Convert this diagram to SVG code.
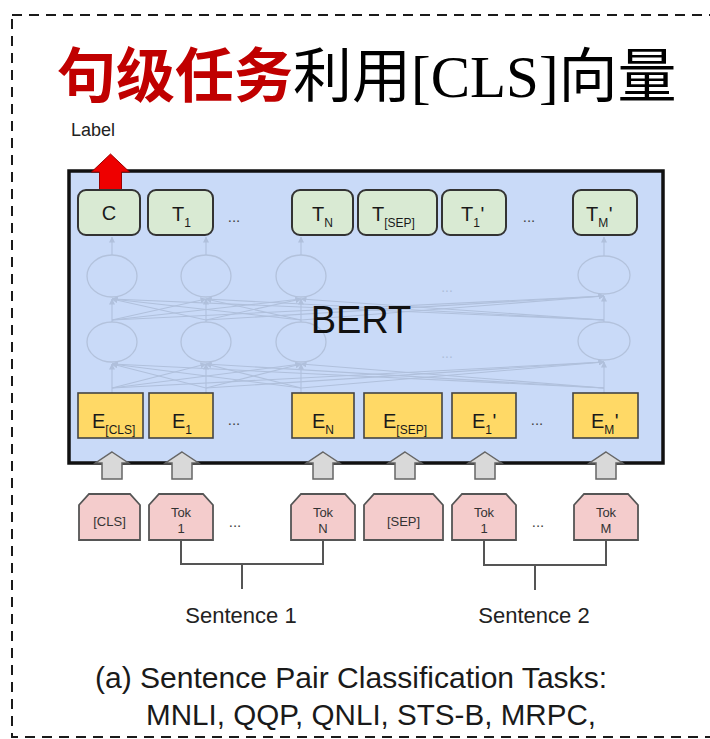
<svg xmlns="http://www.w3.org/2000/svg" width="710" height="739" viewBox="0 0 710 739">
<defs>
<style>
.sans{font-family:"Liberation Sans",Arial,sans-serif}
.tbox{fill:#d9ead3;stroke:#333;stroke-width:2}
.ebox{fill:#ffd966;stroke:#444;stroke-width:1.6}
.tok{fill:#f4cccc;stroke:#555;stroke-width:1.8}
.lbl{font-family:"Liberation Sans",Arial,sans-serif;font-size:20px;fill:#1a1a1a}
.sub{font-size:12px}
.toktxt{font-family:"Liberation Sans",Arial,sans-serif;font-size:13px;fill:#333;text-anchor:middle}
.dots{font-family:"Liberation Sans",Arial,sans-serif;font-size:15px;fill:#444;text-anchor:middle}
.fdots{font-family:"Liberation Sans",Arial,sans-serif;font-size:14px;fill:#afbed8;text-anchor:middle}
.net{stroke:#b0c0dc;stroke-width:1.1;fill:none}
.cir{stroke:#b3c2dc;stroke-width:1.3;fill:none}
.garrow{fill:#d9d9d9;stroke:#666;stroke-width:1.5}
.brk{stroke:#555;stroke-width:2;fill:none}
</style>
<marker id="ta" markerWidth="6" markerHeight="6" refX="5.5" refY="3" orient="auto" markerUnits="userSpaceOnUse">
<path d="M0,0 L6,3 L0,6 z" fill="#b0c0dc"/>
</marker>
</defs>

<rect x="12" y="15" width="730" height="722" fill="none" stroke="#1a1a1a" stroke-width="2" stroke-dasharray="10 7"/>

<g id="title">
<text x="57" y="97" font-size="59" font-family="'Noto Sans CJK SC','Noto Sans CJK TC',sans-serif"><tspan fill="#c00000" font-weight="bold">句级任务</tspan><tspan fill="#000">利用</tspan><tspan fill="#000" font-family="'Liberation Serif','Times New Roman',serif">[CLS]</tspan><tspan fill="#000">向量</tspan></text>
</g>

<g id="label">
<text class="sans" x="71" y="136" font-size="18" fill="#222">Label</text>
</g>

<g id="bert">
<rect x="69" y="171" width="594" height="292" fill="#c9daf8" stroke="#111" stroke-width="3.5"/>
<g id="hidden-layers">
<ellipse class="cir" cx="112" cy="276" rx="25" ry="21"/>
<ellipse class="cir" cx="206" cy="276" rx="25" ry="21"/>
<ellipse class="cir" cx="301" cy="276" rx="25" ry="21"/>
<ellipse class="cir" cx="604" cy="275" rx="26" ry="19"/>
<ellipse class="cir" cx="112" cy="342" rx="25" ry="20"/>
<ellipse class="cir" cx="206" cy="342" rx="25" ry="20"/>
<ellipse class="cir" cx="301" cy="342" rx="25" ry="20"/>
<ellipse class="cir" cx="604" cy="341" rx="26" ry="19"/>
<text class="fdots" x="447" y="292">...</text>
<text class="fdots" x="447" y="358">...</text>
</g>
</g>

<g id="connectors">
<g id="net-lines" class="net" marker-end="url(#ta)">
<line x1="112" y1="255" x2="112" y2="237"/>
<line x1="206" y1="255" x2="206" y2="237"/>
<line x1="301" y1="255" x2="301" y2="237"/>
<line x1="604" y1="256" x2="604" y2="237"/>
<line x1="112" y1="322" x2="112" y2="299"/>
<line x1="206" y1="322" x2="206" y2="299"/>
<line x1="301" y1="322" x2="301" y2="299"/>
<line x1="604" y1="322" x2="604" y2="296"/>
<line x1="112" y1="393" x2="112" y2="364"/>
<line x1="206" y1="393" x2="206" y2="364"/>
<line x1="301" y1="393" x2="301" y2="364"/>
<line x1="604" y1="393" x2="604" y2="362"/>
<line x1="112" y1="320" x2="206" y2="299"/>
<line x1="112" y1="320" x2="301" y2="299"/>
<line x1="112" y1="320" x2="604" y2="296"/>
<line x1="206" y1="320" x2="112" y2="299"/>
<line x1="206" y1="320" x2="301" y2="299"/>
<line x1="206" y1="320" x2="604" y2="296"/>
<line x1="301" y1="320" x2="112" y2="299"/>
<line x1="301" y1="320" x2="206" y2="299"/>
<line x1="301" y1="320" x2="604" y2="296"/>
<line x1="604" y1="320" x2="112" y2="299"/>
<line x1="604" y1="320" x2="206" y2="299"/>
<line x1="604" y1="320" x2="301" y2="299"/>
<line x1="112" y1="388" x2="206" y2="364"/>
<line x1="112" y1="388" x2="301" y2="364"/>
<line x1="112" y1="388" x2="604" y2="362"/>
<line x1="206" y1="388" x2="112" y2="364"/>
<line x1="206" y1="388" x2="301" y2="364"/>
<line x1="206" y1="388" x2="604" y2="362"/>
<line x1="301" y1="388" x2="112" y2="364"/>
<line x1="301" y1="388" x2="206" y2="364"/>
<line x1="301" y1="388" x2="604" y2="362"/>
<line x1="604" y1="388" x2="112" y2="364"/>
<line x1="604" y1="388" x2="206" y2="364"/>
<line x1="604" y1="388" x2="301" y2="364"/>
</g>
<g id="input-arrows" class="garrow">
<path d="M112,452 L128.5,463 L122,463 L122,479 L102,479 L102,463 L95.5,463 Z"/>
<path d="M182,452 L198.5,463 L192,463 L192,479 L172,479 L172,463 L165.5,463 Z"/>
<path d="M323,452 L339.5,463 L333,463 L333,479 L313,479 L313,463 L306.5,463 Z"/>
<path d="M405,452 L421.5,463 L415,463 L415,479 L395,479 L395,463 L388.5,463 Z"/>
<path d="M485,452 L501.5,463 L495,463 L495,479 L475,479 L475,463 L468.5,463 Z"/>
<path d="M606,452 L622.5,463 L616,463 L616,479 L596,479 L596,463 L589.5,463 Z"/>
</g>
<path id="label-arrow" d="M110.5,154 L129.5,172 L121.5,172 L121.5,190 L99.5,190 L99.5,172 L91.5,172 Z" fill="#ee0000" stroke="#9a0000" stroke-width="1"/>
<g id="sentence-brackets" class="brk">
<polyline points="181,540 181,564 323,564 323,540"/>
<line x1="242" y1="564" x2="242" y2="589"/>
<polyline points="484,540 484,565 606,565 606,540"/>
<line x1="535" y1="565" x2="535" y2="590"/>
</g>
</g>

<g id="bert-label">
<text class="sans" x="361" y="333" font-size="38" fill="#111" text-anchor="middle">BERT</text>
</g>

<g id="out-C"><rect class="tbox" x="78" y="190" width="62" height="45" rx="8"/><text class="lbl" x="109" y="220" text-anchor="middle">C</text></g>
<g id="out-T1"><rect class="tbox" x="148" y="190" width="65" height="45" rx="8"/><text class="lbl" x="172" y="221">T<tspan class="sub" dy="6">1</tspan></text></g>
<text class="dots" x="234" y="222">...</text>
<g id="out-TN"><rect class="tbox" x="292" y="190" width="61" height="45" rx="8"/><text class="lbl" x="312" y="221">T<tspan class="sub" dy="6">N</tspan></text></g>
<g id="out-TSEP"><rect class="tbox" x="358" y="190" width="79" height="45" rx="8"/><text class="lbl" x="372" y="221">T<tspan class="sub" dy="6">[SEP]</tspan></text></g>
<g id="out-T1p"><rect class="tbox" x="442" y="190" width="64" height="45" rx="8"/><text class="lbl" x="461" y="221">T<tspan class="sub" dy="6">1</tspan><tspan dy="-6" dx="0.5">'</tspan></text></g>
<text class="dots" x="529" y="222">...</text>
<g id="out-TMp"><rect class="tbox" x="573" y="190" width="64" height="45" rx="8"/><text class="lbl" x="586" y="221">T<tspan class="sub" dy="6">M</tspan><tspan dy="-6" dx="0.5">'</tspan></text></g>

<g id="emb-CLS"><rect class="ebox" x="78" y="393" width="65" height="45"/><text class="lbl" x="92" y="428">E<tspan class="sub" dy="6">[CLS]</tspan></text></g>
<g id="emb-E1"><rect class="ebox" x="149" y="393" width="64" height="45"/><text class="lbl" x="172" y="428">E<tspan class="sub" dy="6">1</tspan></text></g>
<text class="dots" x="234" y="425">...</text>
<g id="emb-EN"><rect class="ebox" x="292" y="393" width="62" height="45"/><text class="lbl" x="312" y="428">E<tspan class="sub" dy="6">N</tspan></text></g>
<g id="emb-ESEP"><rect class="ebox" x="364" y="393" width="78" height="45"/><text class="lbl" x="383" y="428">E<tspan class="sub" dy="6">[SEP]</tspan></text></g>
<g id="emb-E1p"><rect class="ebox" x="452" y="393" width="64" height="45"/><text class="lbl" x="472" y="428">E<tspan class="sub" dy="6">1</tspan><tspan dy="-6" dx="0.5">'</tspan></text></g>
<text class="dots" x="537" y="425">...</text>
<g id="emb-EMp"><rect class="ebox" x="573" y="393" width="65" height="45"/><text class="lbl" x="591" y="428">E<tspan class="sub" dy="6">M</tspan><tspan dy="-6" dx="0.5">'</tspan></text></g>

<g id="tok-CLS"><path class="tok" d="M79,540 L79,505 L89,494 L130,494 L140,505 L140,540 Z"/><text class="toktxt" x="109.5" y="526">[CLS]</text></g>
<g id="tok-1"><path class="tok" d="M149,540 L149,505 L159,494 L203,494 L213,505 L213,540 Z"/><text class="toktxt" x="181" y="517">Tok</text><text class="toktxt" x="181" y="533">1</text></g>
<text class="dots" x="235" y="527">...</text>
<g id="tok-N"><path class="tok" d="M291,540 L291,505 L301,494 L345,494 L355,505 L355,540 Z"/><text class="toktxt" x="323" y="517">Tok</text><text class="toktxt" x="323" y="533">N</text></g>
<g id="tok-SEP"><path class="tok" d="M364,540 L364,505 L374,494 L433,494 L443,505 L443,540 Z"/><text class="toktxt" x="403.5" y="526">[SEP]</text></g>
<g id="tok-1p"><path class="tok" d="M452,540 L452,505 L462,494 L506,494 L516,505 L516,540 Z"/><text class="toktxt" x="484" y="517">Tok</text><text class="toktxt" x="484" y="533">1</text></g>
<text class="dots" x="538" y="527">...</text>
<g id="tok-M"><path class="tok" d="M574,540 L574,505 L584,494 L628,494 L638,505 L638,540 Z"/><text class="toktxt" x="606" y="517">Tok</text><text class="toktxt" x="606" y="533">M</text></g>

<g id="sentence-1"><text class="sans" x="241" y="623" font-size="22" fill="#222" text-anchor="middle">Sentence 1</text></g>
<g id="sentence-2"><text class="sans" x="534" y="623" font-size="22" fill="#222" text-anchor="middle">Sentence 2</text></g>

<g id="caption">
<text class="sans" x="95" y="688" font-size="29" fill="#1a1a1a" textLength="512" lengthAdjust="spacingAndGlyphs">(a) Sentence Pair Classification Tasks:</text>
<text class="sans" x="146" y="725" font-size="29" fill="#1a1a1a" textLength="450" lengthAdjust="spacingAndGlyphs">MNLI, QQP, QNLI, STS-B, MRPC,</text>
</g>
</svg>
